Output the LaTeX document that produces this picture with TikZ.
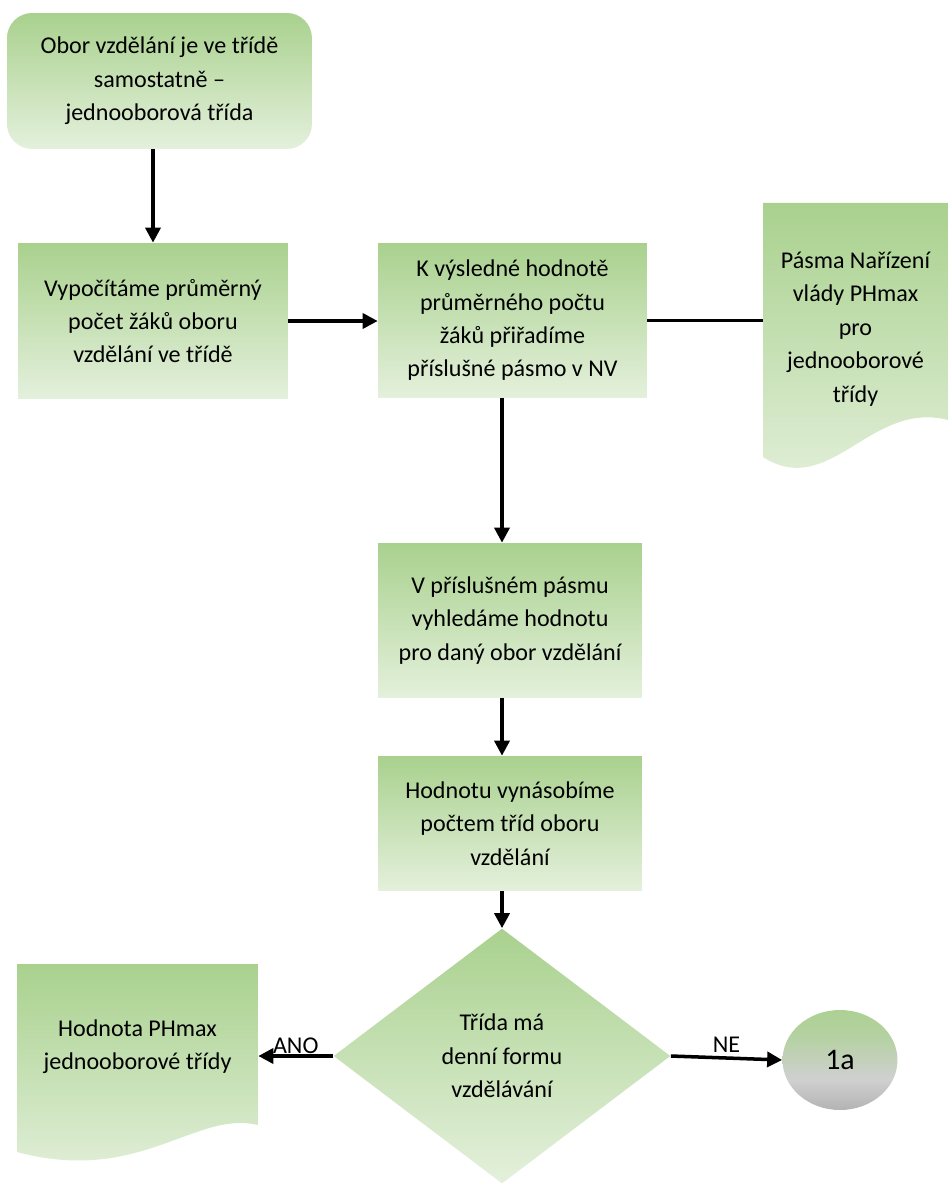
\documentclass[tikz,border=0pt]{standalone}
\usepackage{fontspec}
\setmainfont{Carlito}
\usetikzlibrary{
    calc,
    positioning,
    shapes,
    shapes.geometric,
    arrows.meta}
\definecolor{zelena}{RGB}{169,209,142}
\definecolor{svetla}{RGB}{228,240,220}
\definecolor{seda}{RGB}{208,208,208}
\definecolor{tmava}{RGB}{150,150,150}
\pgfdeclareverticalshading{kruhshade}{100bp}{color(0bp)=(tmava); color(22bp)=(tmava!60!seda); color(40bp)=(seda); color(62bp)=(zelena!70!seda); color(80bp)=(zelena); color(100bp)=(zelena)}
\tikzset{txt/.style={font=\fontsize{13.7}{19}\selectfont, align=center}}
\tikzset{krok/.style={
            txt, top color=zelena, bottom color=svetla,
            inner sep=0pt, anchor=center
        }}
\tikzset{tok/.style={line width=2pt, >={Triangle[length=0.3cm, width=0.3cm]}}}

\begin{document}
\begin{tikzpicture}[x=0.02cm, y=-0.02cm]

    \useasboundingbox (0,0) rectangle (948,1185);

    % start
    \node(obor)[krok, rounded corners=0.5cm, minimum width=6.1cm, minimum height=2.72cm] at (159.5,81)
        {Obor vzdělání je ve třídě\\samostatně --\\jednooborová třída};

    % second row
    \node(prumer)[krok, minimum width=5.4cm, minimum height=3.12cm] at (153,321)
        {Vypočítáme průměrný\\počet žáků oboru\\vzdělání ve třídě};
    \node(nv)[krok, minimum width=5.38cm, minimum height=3.1cm] at (512.5,320.5)
        {K výsledné hodnotě\\průměrného počtu\\žáků přiřadíme\\příslušné pásmo v NV};

    % document right
    \shade[top color=zelena, bottom color=svetla] (763,203) -- (948,203) -- (948,420)
        .. controls (870,400) and (830,500) .. (763,457) -- cycle;
    \node(pasma)[txt, minimum width=3.7cm] at (855.5,329)
        {Pásma Nařízení\\vlády PHmax\\pro\\jednooborové\\třídy};

    % middle column
    \node(pasmo)[krok, minimum width=5.28cm, minimum height=3.1cm] at (510,620.5)
        {V příslušném pásmu\\vyhledáme hodnotu\\pro daný obor vzdělání};
    \node(hodnota)[krok, minimum width=5.28cm, minimum height=2.7cm] at (510,823.5)
        {Hodnotu vynásobíme\\počtem tříd oboru\\vzdělání};

    % decision
    \node(trida)[krok, diamond, aspect=1.32, minimum width=6.74cm, minimum height=5.1cm] at (502,1056)
        {Třída má\\denní formu\\vzdělávání};

    % document left
    \shade[top color=zelena, bottom color=svetla] (17,964) -- (258,964) -- (258,1125)
        .. controls (195,1110) and (140,1185) .. (17,1152) -- cycle;
    \node(phmax)[txt, minimum width=4.82cm] at (137.5,1047)
        {Hodnota PHmax\\jednooborové třídy};

    % connector 1a
    \node(konec)[txt, ellipse, shading=kruhshade, inner sep=0pt, minimum width=2.3cm, minimum height=2cm,
        font=\fontsize{17}{19}\selectfont] at (840,1060){1a};

    % arrows
    \draw[tok, ->] (obor.south -| prumer.north) -- (prumer.north);
    \draw[tok, ->] (prumer.east) -- (prumer.east -| nv.west);
    \draw[tok] (nv.east) -- (nv.east -| pasma.west);
    \draw[tok, ->] (nv.south -| trida.north) -- (pasmo.north -| trida.north);
    \draw[tok, ->] (pasmo.south -| trida.north) -- (hodnota.north -| trida.north);
    \draw[tok, ->] (hodnota.south -| trida.north) -- (trida.north);
    \draw[tok, ->] (trida.west) -- node[txt, above=-3pt]{ANO} (trida.west -| phmax.east);
    \draw[tok, ->] (trida.east) -- node[txt, above=-1pt]{NE} (konec.west);

\end{tikzpicture}
\end{document}
